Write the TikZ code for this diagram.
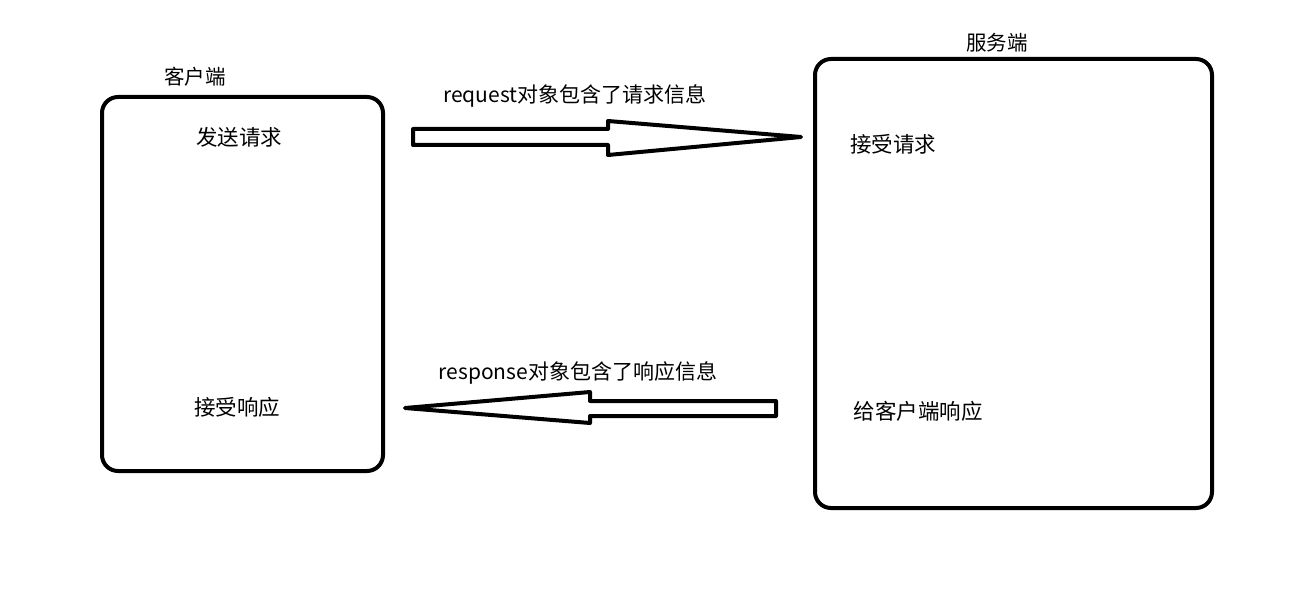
\documentclass[tikz,border=0pt]{standalone}
\usepackage{fontspec}
\setmainfont{Noto Sans CJK SC}
\usepackage{tikz}
\usetikzlibrary{positioning}
\tikzset{
  lado/.style={draw=black,line width=4pt,rounded corners=16pt},
  flecha/.style={draw=black,line width=4pt,line join=round,fill=white},
  titulo/.style={font=\fontsize{20.5pt}{22pt}\selectfont,inner sep=0pt},
  paso/.style={font=\fontsize{21.5pt}{23pt}\selectfont,inner sep=0pt},
  rotulo/.style={font=\fontsize{21pt}{23pt}\selectfont,inner sep=0pt},
}
\begin{document}
\begin{tikzpicture}[x=1pt,y=-1pt]
  \useasboundingbox[fill=white] (0,0) rectangle (1296,615);
  % cajas
  \draw[lado] (102,97) rectangle (383,471);
  \draw[lado] (815,59) rectangle (1212,508);
  \node[titulo] (cliente) at (195,77) {客户端};
  \node[titulo] (servidor) at (997,43) {服务端};
  \node[paso] (enviar) at (239,137) {发送请求};
  \node[paso] (recibir) at (237,407) {接受响应};
  \node[paso] (aceptar) at (893,144) {接受请求};
  \node[paso] (responder) at (918,411) {给客户端响应};
  % flechas
  \draw[flecha] (413,129) -- (608,129) -- (608,121) -- (801,137)
    -- (608,155) -- (608,145) -- (413,145) -- cycle;
  \draw[flecha] (776,401) -- (590,401) -- (590,392) -- (405,408)
    -- (590,423) -- (590,416) -- (776,416) -- cycle;
  \node[rotulo] (peticion) at (575,96) {request对象包含了请求信息};
  \node[rotulo] (respuesta) at (578,373) {response对象包含了响应信息};
\end{tikzpicture}
\end{document}
